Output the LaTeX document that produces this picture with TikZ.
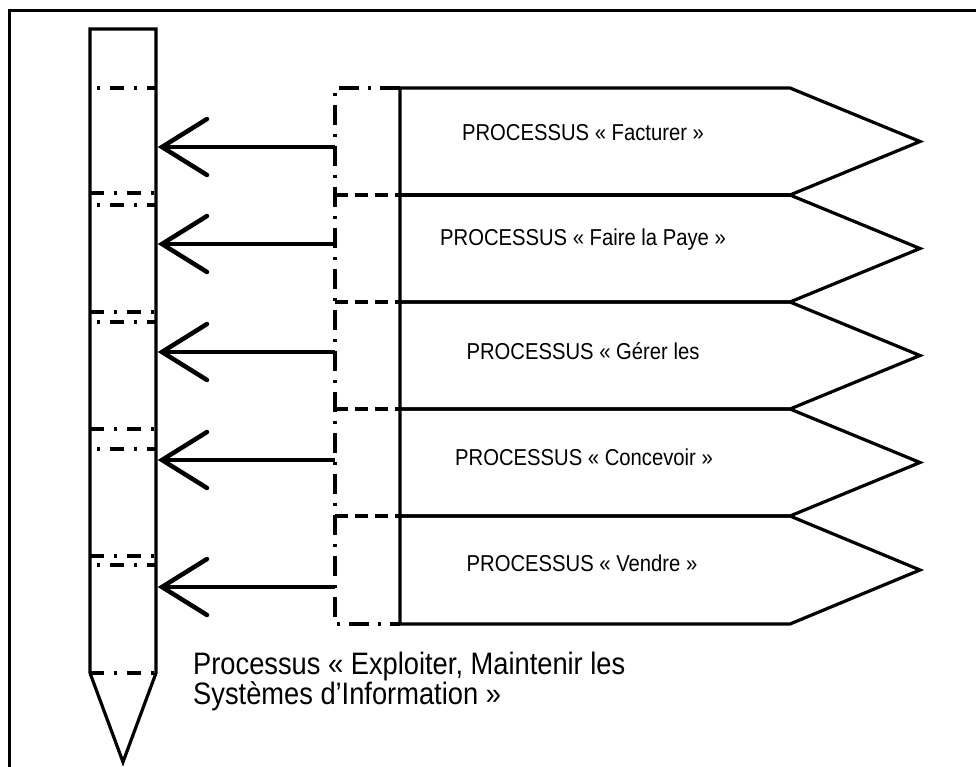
\documentclass[tikz,border=0pt]{standalone}
\usepackage{fontspec}
\newfontfamily\nar[FakeStretch=0.88]{Liberation Sans}
\begin{document}
\begin{tikzpicture}[x=1pt,y=-1pt, line join=miter,
  solidline/.style={line width=3.2pt},
  ddline/.style={line width=3.4pt, dash pattern=on 14pt off 10pt on 3pt off 10pt},
  bracketdd/.style={line width=3.2pt, dash pattern=on 20pt off 9pt on 3pt off 9pt},
  dashline/.style={line width=3.2pt, dash pattern=on 13pt off 7pt},
  arr/.style={line width=4.5pt, line cap=round},
  ptext/.style={font=\nar\fontsize{23}{27}\selectfont, inner sep=0pt},
  btext/.style={font=\nar\fontsize{31}{30}\selectfont, inner sep=0pt, align=left},
]
\useasboundingbox (0,0) rectangle (976,767);
% frame
\draw[line width=3.5pt] (9.5,780) -- (9.5,10.5) -- (990,10.5);
% column
\draw[solidline] (90,673) -- (90,29) -- (156,29) -- (156,673) -- (123,762) -- (90,673);
\foreach \y in {193,312,429,556,673}
  \draw[ddline] (90,\y) -- (156,\y);
\foreach \y in {88,205,322,449,565}
  \draw[ddline, dash phase=17pt] (90,\y) -- (156,\y);
% pentagons
\foreach \t/\b in {88/195,195/302,302/409,409/516,516/624}
  \draw[solidline] (400,\t) -- (790,\t) -- (920,{(\t+\b)/2}) -- (790,\b) -- (400,\b) -- cycle;
\draw[line width=4.5pt] (400,195) -- (790,195);
% bracket
\draw[bracketdd] (400,88) -- (335,88) -- (335,624) -- (400,624);
\foreach \y in {195,302,409,516}
  \draw[dashline] (335,\y) -- (400,\y);
% arrows
\foreach \i/\y in {1/147,2/244,3/352,4/460,5/587}{
  \coordinate (s\i) at (335,\y);
  \coordinate (e\i) at (162,\y);
  \draw[arr, line cap=butt] (s\i) -- (e\i);
  \draw[arr] ([shift={(45,-28)}]e\i) -- (e\i) -- ([shift={(45,28)}]e\i);
}
% texts
\node[ptext] (t1) at (583,133) {PROCESSUS « Facturer »};
\node[ptext] (t2) at (583,240) {PROCESSUS « Faire la Paye »};
\node[ptext] (t3) at (583,351) {PROCESSUS « Gérer les};
\node[ptext] (t4) at (584,457) {PROCESSUS « Concevoir »};
\node[ptext] (t5) at (582,563) {PROCESSUS « Vendre »};
\node[btext, anchor=base west] (t6) at (193,704) {Processus « Exploiter, Maintenir les\\Systèmes d’Information »};
\end{tikzpicture}
\end{document}
